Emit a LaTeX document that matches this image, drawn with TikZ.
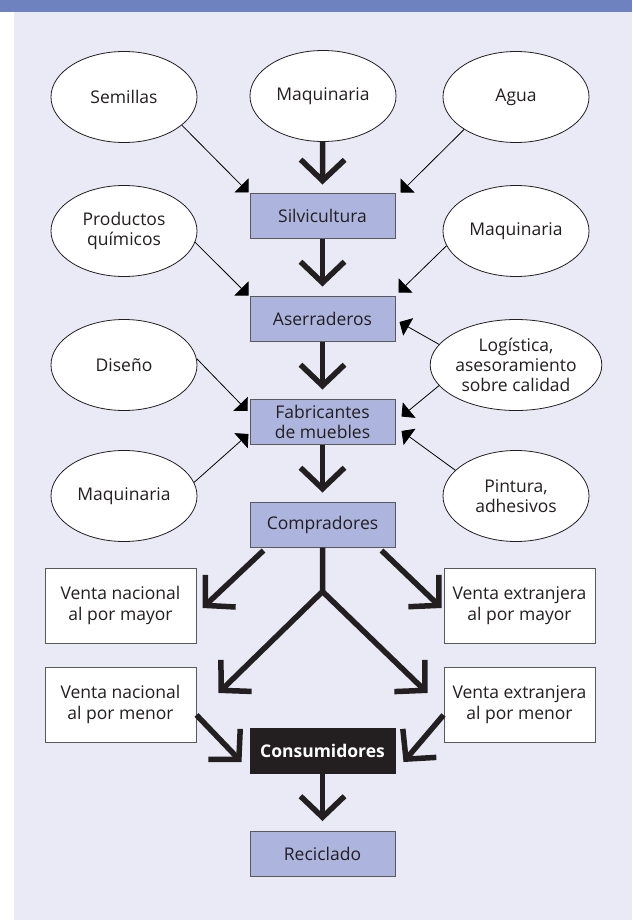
\documentclass[tikz,border=0pt]{standalone}
\usepackage{fontspec}
\setmainfont{Open Sans}
\usetikzlibrary{arrows.meta,positioning,shapes.geometric}

\definecolor{barblue}{RGB}{110,130,192}
\definecolor{panel}{RGB}{234,234,246}
\definecolor{boxblue}{RGB}{173,181,222}
\definecolor{ink}{RGB}{35,31,32}
\definecolor{edgegray}{RGB}{88,89,91}

\begin{document}
\begin{tikzpicture}[x=1pt,y=1pt,node distance=103pt,text=ink,
    font=\fontsize{17.5}{20}\selectfont]
  \tikzstyle{etapa}=[rectangle,draw=edgegray,line width=1pt,fill=boxblue,
    minimum width=145pt,minimum height=45pt,inner sep=0pt,align=center]
  \tikzstyle{insumo}=[ellipse,draw=ink,line width=0.8pt,fill=white,
    minimum width=146pt,minimum height=91pt,inner sep=0pt,align=center]
  \tikzstyle{venta}=[rectangle,draw=edgegray,line width=1pt,fill=white,
    minimum width=151pt,minimum height=75pt,inner sep=0pt,align=center,
    font=\fontsize{17.5}{21.5}\selectfont]
  \tikzstyle{flujo}=[draw=ink,line width=5.5pt,-{Straight Barb[length=21pt,width=44pt]}]
  \tikzstyle{aporte}=[line width=0.8pt,-{Triangle[length=10pt,width=20pt]}]

  % fondo y franja superior
  \useasboundingbox (0,0) rectangle (632,-920);
  \fill[white] (0,0) rectangle (632,-920);
  \fill[panel] (14,-12) rectangle (632,-920);
  \fill[barblue] (0,0) rectangle (632,-12);

  % etapas de la cadena
  \node[etapa] (silv) at (322.5,-215.5) {Silvicultura};
  \node[etapa] (aser) [below of=silv] {Aserraderos};
  \node[etapa] (fab)  [below of=aser] {Fabricantes\\de muebles};
  \node[etapa] (comp) [below of=fab]  {Compradores};
  \node[etapa,draw=ink,fill=ink,text=white,font=\fontsize{17.5}{20}\selectfont\bfseries]
    (cons) at (322.5,-751) {Consumidores};
  \node[etapa] (recic) [below of=cons] {Reciclado};

  % insumos
  \node[insumo] (semillas)  at (124,-97)  {Semillas};
  \node[insumo] (maqsilv)   at (323,-96)  {Maquinaria};
  \node[insumo] (agua)      at (516,-97)  {Agua};
  \node[insumo] (quimicos)  at (124,-231) {Productos\\químicos};
  \node[insumo] (maqaser)   at (516,-231) {Maquinaria};
  \node[insumo] (diseno)    at (124,-365) {Diseño};
  \node[insumo] (logistica) at (516,-365) {Logística,\\asesoramiento\\sobre calidad};
  \node[insumo] (maqfab)    at (124,-496) {Maquinaria};
  \node[insumo] (pintura)   at (516,-496) {Pintura,\\adhesivos};

  % canales de venta
  \node[venta] (nacmay) at (120.5,-605.5) {Venta nacional\\al por mayor};
  \node[venta] (extmay) at (519.5,-605.5) {Venta extranjera\\al por mayor};
  \node[venta] (nacmen) [below of=nacmay,node distance=99pt] {Venta nacional\\al por menor};
  \node[venta] (extmen) [below of=extmay,node distance=99pt] {Venta extranjera\\al por menor};

  \coordinate (reparto)  at ([yshift=-44pt]comp.south);
  \coordinate (haciaNac) at ([xshift=22pt,yshift=11.5pt]nacmen.east);
  \coordinate (haciaExt) at ([xshift=-16pt,yshift=11.5pt]extmen.west);

  % flujo principal
  \draw[flujo] (maqsilv) -- ([yshift=8pt]silv.north);
  \draw[flujo] (silv) -- ([yshift=9pt]aser.north);
  \draw[flujo] (aser) -- ([yshift=9pt]fab.north);
  \draw[flujo] (fab) -- ([yshift=9pt]comp.north);
  \draw[flujo] ([xshift=14pt,yshift=-3pt]comp.south west) -- ([xshift=6pt,yshift=-2.5pt]nacmay.east);
  \draw[flujo] ([xshift=-14pt,yshift=-3pt]comp.south east) -- ([xshift=-2pt,yshift=-2.5pt]extmay.west);
  \draw[flujo] (comp.south) -- (reparto) -- (haciaNac);
  \draw[flujo] (reparto) -- (haciaExt);
  \draw[flujo] ([yshift=-10.5pt]nacmen.east) -- ([xshift=-8pt,yshift=-11pt]cons.west);
  \draw[flujo] ([yshift=-10.5pt]extmen.west) -- ([xshift=8pt,yshift=-11pt]cons.east);
  \draw[flujo] (cons) -- ([yshift=10pt]recic.north);

  % aportes
  \path[aporte]
  (semillas.-26)  edge ([xshift=-1pt]silv.north west)
  (agua.-148)     edge ([xshift=5pt]silv.north east)
  (quimicos.-9)   edge ([xshift=-1pt]aser.north west)
  (maqaser.-168)  edge ([xshift=3pt,yshift=3pt]aser.north east)
  (logistica.165) edge ([xshift=4pt,yshift=-3.5pt]aser.east)
  (logistica.-165) edge ([xshift=6pt,yshift=5pt]fab.east)
  (diseno.5)      edge ([xshift=-2pt,yshift=10.5pt]fab.west)
  (maqfab.11)     edge ([xshift=-1pt,yshift=-12.5pt]fab.west)
  (pintura.157)   edge ([xshift=6pt,yshift=-9.5pt]fab.east);
\end{tikzpicture}
\end{document}
